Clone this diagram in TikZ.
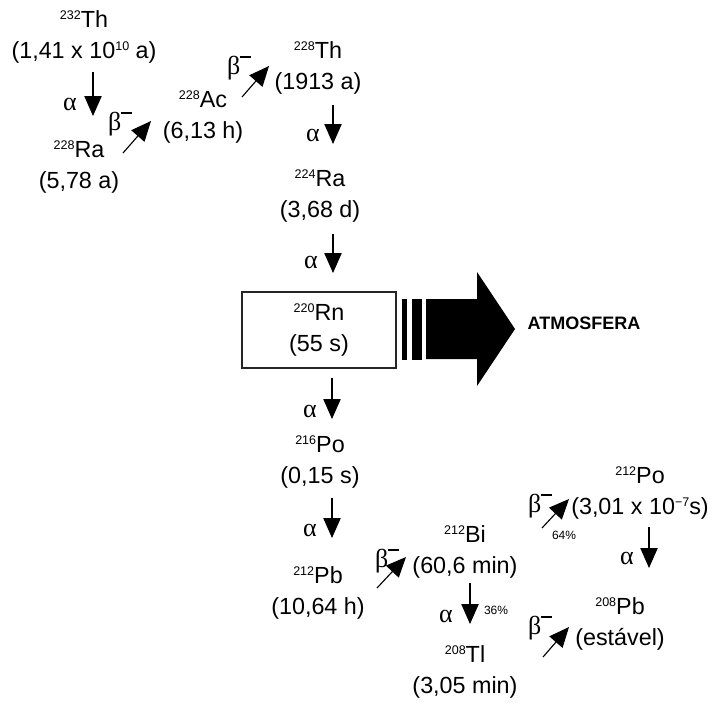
\documentclass[tikz,border=0pt]{standalone}
\usepackage{fontspec}
\setmainfont{Liberation Sans}
\newfontfamily\grk{Liberation Serif}
\usetikzlibrary{arrows.meta, positioning}
\newcommand{\expo}[1]{\raisebox{6.2pt}{\fontsize{9.4}{9.4}\selectfont #1}}
\newcommand{\nuc}[2]{\expo{#1}#2}
\newcommand{\bmin}{β\kern-0.5pt\raisebox{12.5pt}{\rule{8.5pt}{1.1pt}}}
\tikzstyle{nuclide} = [align=center, inner sep=0pt, font=\fontsize{17.5}{23.5}\selectfont]
\tikzstyle{decay} = [line width=0.85pt, -{Triangle[length=15pt, width=13pt]}]
\tikzstyle{lbl} = [inner sep=0pt, font=\fontsize{19.5}{20}\selectfont\grk]
\tikzstyle{pct} = [inner sep=0pt, font=\fontsize{9}{9}\selectfont]
\tikzstyle{radon} = [rectangle, draw=black!85, line width=0.8pt, minimum width=115.5pt, minimum height=57pt, align=center, font=\fontsize{17.5}{23.5}\selectfont]

\begin{document}
\begin{tikzpicture}[x=0.75pt, y=-0.75pt]
        \useasboundingbox (0,0) rectangle (712,703);

        % nuclideos
        \node (th232) [nuclide] at (84,37) {\nuc{232}{Th}\\(1,41 x 10\expo{10} a)};
        \node (ra228) [nuclide] at (79,167) {\nuc{228}{Ra}\\(5,78 a)};
        \node (ac228) [nuclide] at (203,117) {\nuc{228}{Ac}\\(6,13 h)};
        \node (th228) [nuclide] at (318,68) {\nuc{228}{Th}\\(1913 a)};
        \node (ra224) [nuclide] at (320,196) {\nuc{224}{Ra}\\(3,68 d)};
        \node (rn220) [radon] at (319,330) {\nuc{220}{Rn}\\(55 s)};
        \node (po216) [nuclide] at (320,462) {\nuc{216}{Po}\\(0,15 s)};
        \node (pb212) [nuclide] at (318,593) {\nuc{212}{Pb}\\(10,64 h)};
        \node (bi212) [nuclide] at (465,552) {\nuc{212}{Bi}\\(60,6 min)};
        \node (tl208) [nuclide] at (465,672) {\nuc{208}{Tl}\\(3,05 min)};
        \node (po212) [nuclide] at (640,493) {\nuc{212}{Po}\\(3,01 x 10\expo{−7}s)};
        \node (pb208) [nuclide] at (620,624) {\nuc{208}{Pb}\\(estável)};

        % pontas das setas
        \coordinate (a1s) at (93,72);   \coordinate (a1e) at (93,116);
        \coordinate (b1s) at (123,153); \coordinate (b1e) at (151,121);
        \coordinate (b2s) at (242,97);  \coordinate (b2e) at (269,66);
        \coordinate (a2s) at (333,105); \coordinate (a2e) at (333,144);
        \coordinate (a3s) at (333,234); \coordinate (a3e) at (333,273);
        \coordinate (a4s) at (332,378); \coordinate (a4e) at (332,419);
        \coordinate (a5s) at (332,498); \coordinate (a5e) at (332,538);
        \coordinate (b3s) at (377,588); \coordinate (b3e) at (406,557);
        \coordinate (a6s) at (470,583); \coordinate (a6e) at (470,624);
        \coordinate (b4s) at (542,528); \coordinate (b4e) at (569,499);
        \coordinate (a7s) at (649,527); \coordinate (a7e) at (649,568);
        \coordinate (b5s) at (543,657); \coordinate (b5e) at (569,627);

        \draw [decay] (a1s) -- (a1e);
        \draw [decay] (b1s) -- (b1e);
        \draw [decay] (b2s) -- (b2e);
        \draw [decay] (a2s) -- (a2e);
        \draw [decay] (a3s) -- (a3e);
        \draw [decay] (a4s) -- (a4e);
        \draw [decay] (a5s) -- (a5e);
        \draw [decay] (b3s) -- (b3e);
        \draw [decay] (a6s) -- (a6e);
        \draw [decay] (b4s) -- (b4e);
        \draw [decay] (a7s) -- (a7e);
        \draw [decay] (b5s) -- (b5e);

        % rotulos
        \node (la1) [lbl] at (70,104) {α};
        \node (lb1) [lbl] at (120,124) {\bmin};
        \node (lb2) [lbl] at (239,68) {\bmin};
        \node (la2) [lbl] at (313,135) {α};
        \node (la3) [lbl] at (311,262) {α};
        \node (la4) [lbl] at (310,411) {α};
        \node (la5) [lbl] at (310,530) {α};
        \node (lb3) [lbl] at (387,561) {\bmin};
        \node (la6) [lbl] at (446,616) {α};
        \node (p36) [pct] at (496,610) {36\%};
        \node (lb4) [lbl] at (540,506) {\bmin};
        \node (p64) [pct] at (564,535) {64\%};
        \node (la7) [lbl] at (627,558) {α};
        \node (lb5) [lbl] at (540,628) {\bmin};

        % saida para a atmosfera
        \fill (402,299) rectangle (407,360);
        \fill (412,299) rectangle (422,360);
        \fill (426,299) -- (477,299) -- (477,272) -- (515,329) -- (477,386) -- (477,359) -- (426,359) -- cycle;
        \node (atm) [inner sep=0pt, font=\fontsize{13.5}{13.5}\selectfont\bfseries] at (584,323) {ATMOSFERA};

    \end{tikzpicture}
\end{document}
